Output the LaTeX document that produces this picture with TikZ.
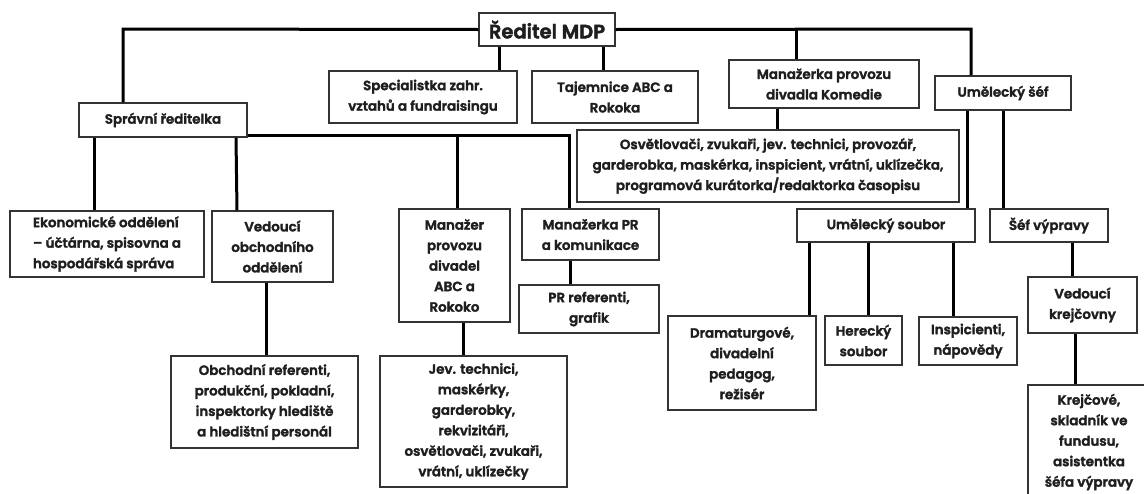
\documentclass[tikz,border=0pt]{standalone}
\usepackage{fontspec}
\setmainfont{Poppins SemiBold}[FakeBold=2]
\definecolor{txt}{HTML}{1E1E1E}
\definecolor{brd}{HTML}{333333}
\tikzset{
  box/.style={draw=brd, line width=1.2pt, fill=white, text=txt, align=center, inner sep=2pt,
    font=\fontsize{13.4}{20.5}\selectfont},
  conn/.style={line width=3pt, black},
}
\begin{document}
\begin{tikzpicture}[x=1pt,y=-1pt]
\useasboundingbox (0,0) rectangle (1144,493);
\clip (0,0) rectangle (1144,493);
\fill[white] (0,0) rectangle (1144,493);
\coordinate (tl) at (123,29);
\coordinate (tr) at (971,29);
\coordinate (j1) at (457,135);
\coordinate (j2) at (569,135);
\coordinate (j0) at (247,135);
% nodes
\node[box, minimum width=136, minimum height=33, font=\fontsize{19.5}{22}\selectfont] (red) at (547,29.5) {Ředitel MDP};
\node[box, minimum width=168, minimum height=34] (spr) at (163,120) {Správní ředitelka};
\node[box, minimum width=188, minimum height=52] (spe) at (423,97) {Specialistka zahr.\\vztahů a fundraisingu};
\node[box, minimum width=166, minimum height=52] (taj) at (615,97) {Tajemnice ABC a\\Rokoka};
\node[box, minimum width=190, minimum height=48] (mpk) at (824,84) {Manažerka provozu\\divadla Komedie};
\node[box, minimum width=136, minimum height=34] (ums) at (1003,93) {Umělecký šéf};
\node[box, minimum width=382, minimum height=72] (osv) at (768,166) {Osvětlovači, zvukaři, jev. technici, provozář,\\garderobka, maskérka, inspicient, vrátní, uklízečka,\\programová kurátorka/redaktorka časopisu};
\node[box, minimum width=194, minimum height=66, align=left] (eko) at (107,244) {Ekonomické oddělení\\– účtárna, spisovna a\\hospodářská správa};
\node[box, minimum width=121, minimum height=71] (vob) at (272.5,246.5) {Vedoucí\\obchodního\\oddělení};
\node[box, minimum width=187, minimum height=92] (obr) at (264.5,402) {Obchodní referenti,\\produkční, pokladní,\\inspektorky hlediště\\a hledištní personál};
\node[box, minimum width=111, minimum height=113] (mp) at (454.5,265.5) {Manažer\\provozu\\divadel\\ABC a\\Rokoko};
\node[box, minimum width=187, minimum height=131] (jev) at (473.5,421.5) {Jev. technici,\\maskérky,\\garderobky,\\rekvizitáři,\\osvětlovači, zvukaři,\\vrátní, uklízečky};
\node[box, minimum width=137, minimum height=51] (prm) at (590.5,234.5) {Manažerka PR\\a komunikace};
\node[box, minimum width=140, minimum height=48] (prr) at (589,309) {PR referenti,\\grafik};
\node[box, minimum width=178, minimum height=33] (usb) at (886,225.5) {Umělecký soubor};
\node[box, minimum width=118, minimum height=33] (sev) at (1049,225.5) {Šéf výpravy};
\node[box, minimum width=148, minimum height=94] (dra) at (742,363) {Dramaturgové,\\divadelní\\pedagog,\\režisér};
\node[box, minimum width=77, minimum height=49] (her) at (863.5,340.5) {Herecký\\soubor};
\node[box, minimum width=98, minimum height=48] (ins) at (968,341) {Inspicienti,\\nápovědy};
\node[box, minimum width=109, minimum height=56] (vkr) at (1082.5,305) {Vedoucí\\krejčovny};
\node[box, minimum width=122, minimum height=114] (kre) at (1089,442) {Krejčové,\\skladník ve\\fundusu,\\asistentka\\šéfa výpravy};
% connectors
\draw[conn] (red.west) -- (tl) -- (spr.north -| tl);
\draw[conn] (red.east) -- (tr) -- (ums.north -| tr);
\draw[conn] (red.south -| 499,0) -- (spe.north -| 499,0);
\draw[conn] (red.south -| 603,0) -- (taj.north -| 603,0);
\draw[conn] (mpk.north -| 796,0) -- (796,29);
\draw[conn] (mpk.south -| 777,0) -- (osv.north -| 777,0);
\draw[conn] (spr.east |- j0) -- (j2) -- (prm.north -| j2);
\draw[conn] (j1) -- (mp.north -| j1);
\draw[conn] (spr.south -| 94,0) -- (eko.north -| 94,0);
\draw[conn] (spr.south -| 236,0) -- (vob.north -| 237,0);
\draw[conn] (vob.south -| 266,0) -- (obr.north -| 266,0);
\draw[conn] (mp.south -| 463,0) -- (jev.north -| 463,0);
\draw[conn] (prm.south -| 570,0) -- (prr.north -| 570,0);
\draw[conn] (ums.south -| 967,0) -- (usb.north -| 967,0);
\draw[conn] (ums.south -| 1003,0) -- (sev.north -| 1003,0);
\draw[conn] (usb.south -| 809,0) -- (dra.north -| 809,0);
\draw[conn] (usb.south -| 868,0) -- (her.north -| 868,0);
\draw[conn] (usb.south -| 953,0) -- (ins.north -| 953,0);
\draw[conn] (sev.south -| 1072,0) -- (vkr.north -| 1072,0);
\draw[conn] (vkr.south -| 1075,0) -- (kre.north -| 1075,0);
\end{tikzpicture}
\end{document}
